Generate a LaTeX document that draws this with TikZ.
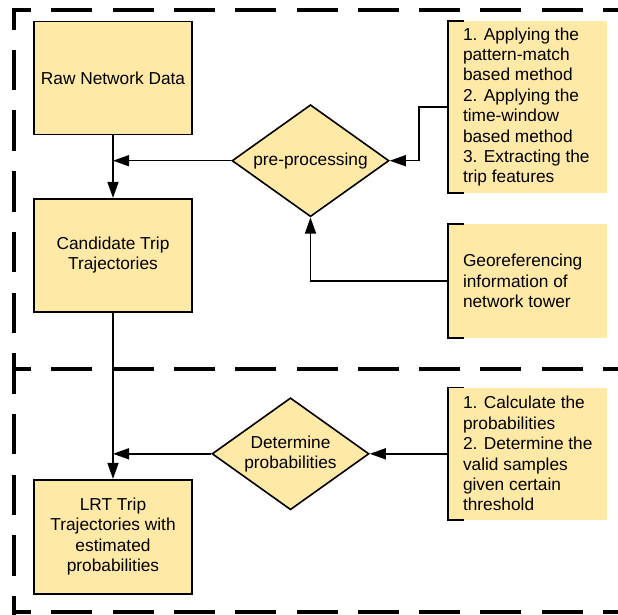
\documentclass[tikz,border=0pt]{standalone}
\usepackage{fontspec}
\setmainfont{Liberation Sans}
\usetikzlibrary{shapes.geometric,arrows.meta}
\definecolor{boxfill}{RGB}{255,233,166}
\begin{document}
\begin{tikzpicture}[x=1pt,y=-1pt,
  font=\fontsize{17.3}{20.4}\selectfont,
  procbox/.style={draw=black, line width=1.6pt, fill=boxfill, minimum width=158pt, minimum height=113pt, inner sep=2pt, align=center},
  decision/.style={diamond, aspect=1.4, draw=black, line width=1.6pt, fill=boxfill, minimum width=157pt, minimum height=112pt, inner sep=0pt, align=center},
  listbox/.style={fill=boxfill, minimum width=158.7pt, inner sep=0pt},
  listtext/.style={align=left, inner sep=0pt, anchor=west},
  bracket/.style={line width=1.8pt},
  conn/.style={line width=1.5pt},
  arr/.style={conn, -{Triangle[length=16pt,width=11pt]}},
  hframe/.style={line width=4pt, dash pattern=on 41pt off 20.3pt, dash phase=22pt},
  vframe/.style={line width=4pt, dash pattern=on 40.5pt off 20.2pt, dash phase=20.5pt}
]
\useasboundingbox (0,0) rectangle (618,614);
\clip (0,0) rectangle (618,614);

% dashed frames
\draw[vframe] (14,9.5) -- (14,640);
\draw[hframe] (12,9.5) -- (680,9.5);
\draw[hframe] (12,369) -- (680,369);
\draw[hframe] (12,612) -- (680,612);

% process boxes
\node[procbox] (raw) at (113,78) {Raw Network Data};
\node[procbox] (cand) at (113,255.2) {Candidate Trip\\Trajectories};
\node[procbox, minimum height=114pt] (lrt) at (113,536.7) {LRT Trip\\Trajectories with\\estimated\\probabilities};

% decisions
\node[decision] (pre) at (310.5,160.7) {pre-processing};
\node[decision] (det) at (290.5,453.8) {Determine\\probabilities};

% annotation boxes
\node[listbox, minimum height=172pt] (p1) at (527.35,107) {};
\node[listtext] (p1t) at ([xshift=15pt]p1.west) {1. Applying the\\pattern-match\\based method\\2. Applying the\\time-window\\based method\\3. Extracting the\\trip features};
\node[listbox, minimum height=113.4pt] (p2) at (527.35,281) {};
\node[listtext] (p2t) at ([xshift=15pt]p2.west) {Georeferencing\\information of\\network tower};
\node[listbox, minimum height=132.3pt] (p3) at (527.35,453.8) {};
\node[listtext] (p3t) at ([xshift=15pt]p3.west) {1. Calculate the\\probabilities\\2. Determine the\\valid samples\\given certain\\threshold};

\foreach \p in {p1,p2,p3}{
  \draw[bracket] ([xshift=16pt]\p.north west) -- (\p.north west) -- (\p.south west) -- ([xshift=16pt]\p.south west);
}

% connectors
\draw[arr] (raw.south) -- (cand.north);
\draw[arr] (cand.south) -- (lrt.north);
\draw[arr] (pre.west) -- (raw.south |- pre.west);
\draw[arr] (det.west) -- (cand.south |- det.west);
\draw[arr] (p1.west) -- ([xshift=-29pt]p1.west) |- (pre.east);
\draw[arr] (p2.west) -| (pre.south);
\draw[arr] (p3.west) -- (det.east);
\end{tikzpicture}
\end{document}
